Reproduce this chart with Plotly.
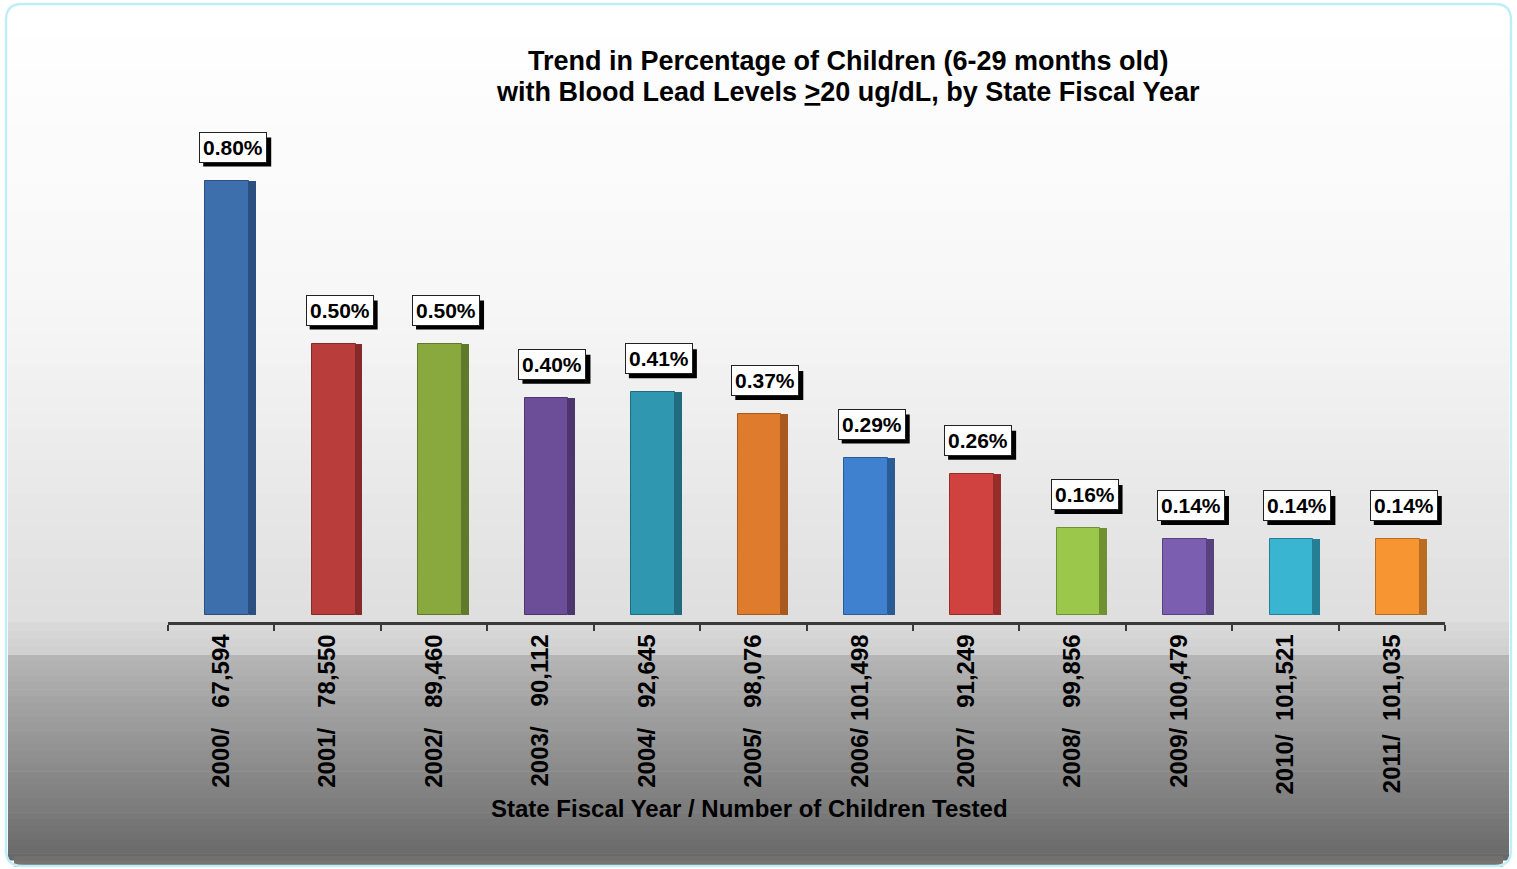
import plotly.graph_objects as go

# ---------------- data ----------------
years = ["2000", "2001", "2002", "2003", "2004", "2005",
         "2006", "2007", "2008", "2009", "2010", "2011"]
children_tested = ["67,594", "78,550", "89,460", "90,112", "92,645", "98,076",
                   "101,498", "91,249", "99,856", "100,479", "101,521", "101,035"]
tick_gaps = [3, 3, 3, 3, 3, 3, 1, 3, 3, 1, 2, 2]
pct_values = [0.80, 0.50, 0.50, 0.40, 0.41, 0.37, 0.29, 0.26, 0.16, 0.14, 0.14, 0.14]
pct_labels = ["0.80%", "0.50%", "0.50%", "0.40%", "0.41%", "0.37%",
              "0.29%", "0.26%", "0.16%", "0.14%", "0.14%", "0.14%"]
bar_colors = ["#3d6fad", "#b93d3b", "#89a93f", "#6c4e98", "#2f97af", "#df7b2d",
              "#3f80cf", "#d0423f", "#9bc84a", "#7c5eb0", "#39b5d1", "#f79532"]
side_colors = ["#2a4f80", "#842a29", "#61792b", "#4c366d", "#206b7d", "#a85a1e",
               "#2b5b95", "#962d2b", "#6f9132", "#57417f", "#257f94", "#b96d22"]

title_lines = ["<b>Trend in Percentage of Children (6-29 months old)</b>",
               "<b>with Blood Lead Levels <u>&gt;</u>20 ug/dL, by State Fiscal Year</b>"]
x_title = "<b>State Fiscal Year / Number of Children Tested</b>"

FONT = "Liberation Sans, Arial, sans-serif"

# ---------------- geometry helpers (decoration only) ----------------
W, H = 1517, 869
PL, PR, PT, PB = 168, 1445, 130, 622   # plot area in pixels


def xp(px):
    return (px - PL) / (PR - PL)


def yp(py):
    return (PB - py) / (PB - PT)


def lerp_color(c1, c2, t):
    a = [int(c1[i:i + 2], 16) for i in (1, 3, 5)]
    b = [int(c2[i:i + 2], 16) for i in (1, 3, 5)]
    return "#" + "".join(f"{int(round(a[k] + (b[k] - a[k]) * t)):02x}" for k in range(3))


shapes = []


def gradient(y0, y1, c0, c1, steps, x0=8, x1=1509):
    for i in range(steps):
        ya = y0 + (y1 - y0) * i / steps
        yb = y0 + (y1 - y0) * (i + 1) / steps + 0.6
        shapes.append(dict(type="rect", xref="paper", yref="paper",
                           x0=xp(x0), x1=xp(x1), y0=yp(yb), y1=yp(ya),
                           fillcolor=lerp_color(c0, c1, (i + 0.5) / steps),
                           line=dict(width=0), layer="below"))


gradient(8, 300, "#ffffff", "#f7f7f7", 10)
gradient(300, 622, "#f7f7f7", "#dedede", 20)
gradient(622, 655, "#dadada", "#cfcfcf", 4)
gradient(655, 860, "#b6b6b6", "#686868", 30)
gradient(856, 866, "#6e6e6e", "#7a7670", 2, x0=14, x1=1503)

# rounded frame
r = 16
fx0, fx1, fy0, fy1 = 6, 1511, 4, 866


def P(x, y):
    return f"{xp(x):.5f},{yp(y):.5f}"


frame_path = (f"M {P(fx0 + r, fy0)} L {P(fx1 - r, fy0)} Q {P(fx1, fy0)} {P(fx1, fy0 + r)} "
              f"L {P(fx1, fy1 - r)} Q {P(fx1, fy1)} {P(fx1 - r, fy1)} "
              f"L {P(fx0 + r, fy1)} Q {P(fx0, fy1)} {P(fx0, fy1 - r)} "
              f"L {P(fx0, fy0 + r)} Q {P(fx0, fy0)} {P(fx0 + r, fy0)} Z")
shapes.append(dict(type="path", xref="paper", yref="paper", path=frame_path,
                   line=dict(color="#bfeef7", width=2.5), fillcolor="rgba(0,0,0,0)",
                   layer="below"))

# ---------------- traces ----------------
tick_text = [f"<b>{y}/{chr(160) * g}{n}</b>" for y, g, n in zip(years, tick_gaps, children_tested)]

fig = go.Figure()
# dark side face (3D look)
fig.add_trace(go.Bar(x=years, y=pct_values, width=0.065, offset=0.262,
                     marker=dict(color=side_colors, line=dict(width=0)),
                     hoverinfo="skip", showlegend=False))
# front face
fig.add_trace(go.Bar(x=years, y=pct_values, width=0.41, offset=-0.148,
                     marker=dict(color=bar_colors, line=dict(color=side_colors, width=1)),
                     showlegend=False,
                     hovertemplate="%{x}: %{y:.2f}%<extra></extra>"))

annotations = []
lab_font = dict(family=FONT, size=21, color="black")
LX, LY = 12, 18          # label offset from bar top (pixels)
BW, BH = 68, 29          # approx label box size (pixels)
SH = 4                   # shadow offset
for i, (v, t) in enumerate(zip(pct_values, pct_labels)):
    # drop shadow behind the label box
    shapes.append(dict(type="rect", xref="x", yref="y",
                       xsizemode="pixel", ysizemode="pixel", xanchor=i, yanchor=v,
                       x0=LX - BW / 2 + SH, x1=LX + BW / 2 + SH,
                       y0=LY - SH, y1=LY - SH + BH,
                       fillcolor="black", line=dict(width=0), layer="above"))
    annotations.append(dict(x=i, y=v, xref="x", yref="y", text=f"<b>{t}</b>",
                            showarrow=False, yanchor="bottom", xanchor="center",
                            xshift=LX, yshift=LY, font=lab_font,
                            bgcolor="white", bordercolor="#222222", borderwidth=1, borderpad=3))

for line, ypix in zip(title_lines, [61, 92]):
    annotations.append(dict(x=xp(848), y=yp(ypix), xref="paper", yref="paper", text=line,
                            showarrow=False, xanchor="center", yanchor="middle",
                            font=dict(family=FONT, size=27, color="black")))

annotations.append(dict(x=xp(749), y=yp(808), xref="paper", yref="paper", text=x_title,
                        showarrow=False, xanchor="center", yanchor="middle",
                        font=dict(family=FONT, size=24, color="black")))

fig.update_layout(
    width=W, height=H,
    margin=dict(l=PL, r=W - PR, t=PT, b=H - PB, pad=0),
    paper_bgcolor="white", plot_bgcolor="rgba(0,0,0,0)",
    barmode="overlay", bargap=0,
    xaxis=dict(type="category", tickmode="array", tickvals=years, ticktext=tick_text,
               tickangle=-90, tickson="boundaries", ticks="outside", ticklen=6,
               tickwidth=1.5, tickcolor="#3a3a3a", showline=True, linecolor="#3a3a3a",
               linewidth=2.5, showgrid=False, zeroline=False, range=[-0.5, 11.5],
               tickfont=dict(family=FONT, size=24, color="black")),
    yaxis=dict(visible=False, range=[-0.0129, 0.8932], fixedrange=True),
    shapes=shapes, annotations=annotations,
)

fig.write_html("out.html", config={"displayModeBar": False},
               post_script="document.body.style.margin='0';document.body.style.padding='0';")
